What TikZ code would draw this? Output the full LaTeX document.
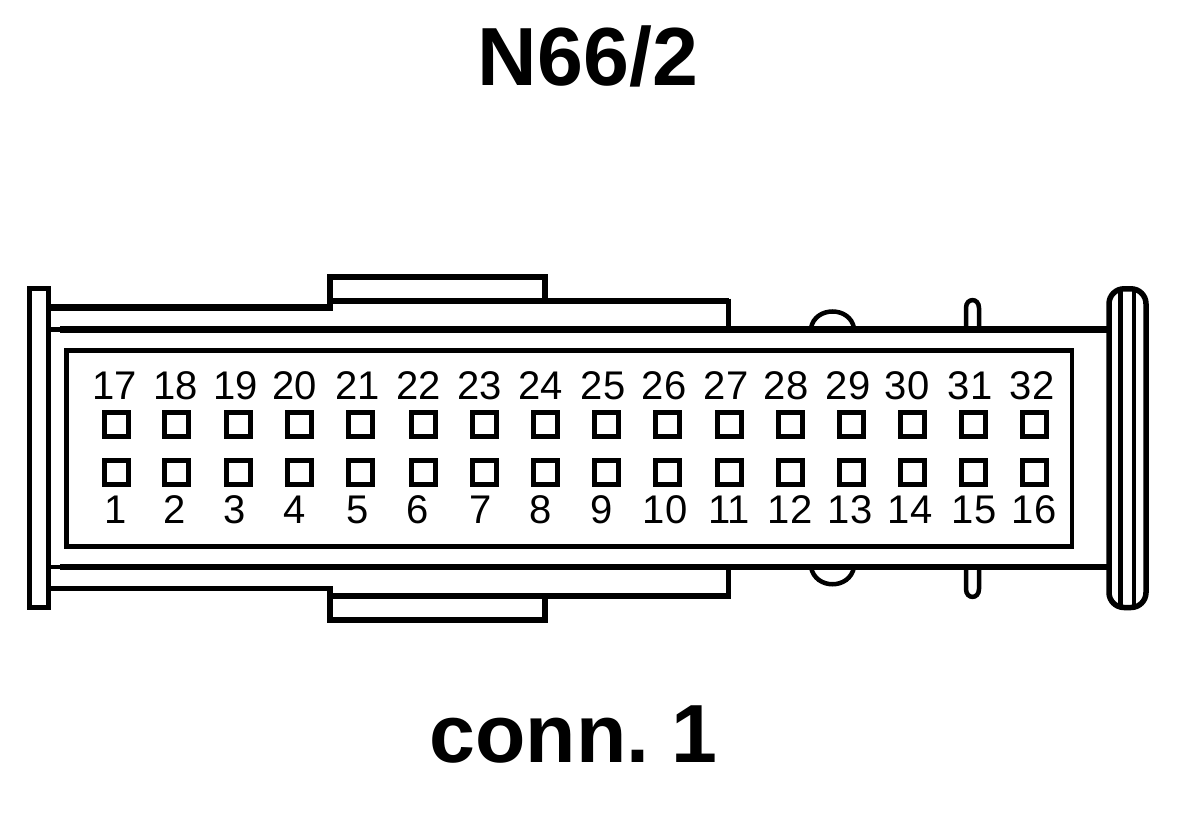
\documentclass[tikz,border=0pt]{standalone}
\usepackage{fontspec}
\setmainfont{Liberation Sans}
\tikzset{
  ln/.style={draw=black,line width=5.5pt,line cap=butt,line join=miter},
  thin ln/.style={draw=black,line width=4.5pt,line join=miter},
  pinbox/.style={draw=black,line width=5pt,fill=white,minimum size=24pt,inner sep=0pt,outer sep=0pt},
  pinnum/.style={font=\fontsize{40}{48}\selectfont,anchor=base,inner sep=0pt},
  bigtext/.style={font=\fontsize{82.5}{96}\selectfont\bfseries,anchor=base,inner sep=0pt}
}
\begin{document}
\begin{tikzpicture}[x=1pt,y=-1pt]
\useasboundingbox (0,0) rectangle (1200,816);
% bumps and pins behind the body
\draw[line width=4.5pt] (811,328) .. controls (815,306) and (850,306) .. (854,328);
\draw[line width=4.5pt] (811,567) .. controls (815,590) and (850,590) .. (854,567);
\draw[line width=4.5pt] (966,329) -- (966,308) .. controls (966,297.5) and (979,297.5) .. (979,308) -- (979,329);
\draw[line width=4.5pt] (966,567) -- (966,589) .. controls (966,599.5) and (979,599.5) .. (979,589) -- (979,567);
% left flange
\draw[ln,line width=5pt] (29.5,288.5) rectangle (48.5,607.5);
% upper body
\draw[ln,line width=6.5pt] (49,307.3) -- (333,307.3);
\draw[ln] (330,310.5) -- (330,277) -- (545,277) -- (545,304);
\draw[ln] (330,301) -- (728.5,301);
\draw[ln,line width=5pt] (728.5,298.5) -- (728.5,330);
\draw[ln,line width=6.5pt] (60,329.5) -- (1108,329.5);
\draw[ln,line width=4.5pt] (49,329.5) -- (60,329.5);
% lower body
\draw[ln,line width=5.5pt] (60,566.8) -- (1108,566.8);
\draw[ln,line width=4pt] (49,566.8) -- (60,566.8);
\draw[ln] (49,588.7) -- (333,588.7);
\draw[ln] (330,586) -- (330,620) -- (545,620) -- (545,593);
\draw[ln,line width=6pt] (330,595.7) -- (731,595.7);
\draw[ln,line width=5pt] (728.5,567) -- (728.5,598);
% inner frame
\draw[thin ln] (66.7,350.5) rectangle (1072,546.5);
% right handle
\draw[ln,fill=white,rounded corners=15pt] (1109,288.8) rectangle (1146,607.5);
\draw[ln,line width=4.5pt] (1120.5,289) -- (1120.5,607);
\draw[ln,line width=4.5pt] (1134,289) -- (1134,607);
% titles
\node[bigtext] (title) at (588,85) {N66/2};
\node[bigtext] (conn) at (573.5,762) {conn.\hspace{22pt}1};
% pins, upper row
\foreach \n/\bx/\tx in {17/116.5/115,18/176.5/176,19/238.5/236,20/299.5/295,21/360.5/358,22/423/419,23/484/480,24/545/541,25/606/603,26/667/664,27/729/726,28/790/786,29/851/848,30/912.5/907,31/973.5/970,32/1034.5/1032}{
  \node[pinbox] (p\n) at (\bx,424.5) {};
  \node[pinnum] (t\n) at (\tx,399) {\n};
}
% pins, lower row
\foreach \n/\bx/\tx in {1/116.5/116,2/176.5/175,3/238.5/235,4/299.5/295,5/360.5/358,6/423/418,7/484/481,8/545/541,9/606/602,10/667/665,11/729/729,12/790/790,13/851/850,14/912.5/910,15/973.5/974,16/1034.5/1034}{
  \node[pinbox] (p\n) at (\bx,472.5) {};
  \node[pinnum] (t\n) at (\tx,523) {\n};
}
\end{tikzpicture}
\end{document}
